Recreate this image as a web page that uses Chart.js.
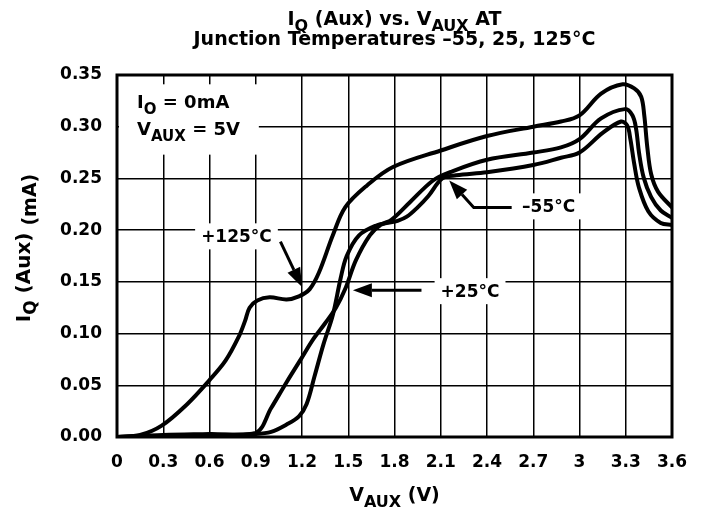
<!DOCTYPE html>
<html>
<head>
<meta charset="utf-8">
<script src="https://cdn.jsdelivr.net/npm/chart.js@4"></script>
<style>
  body { margin: 0; background: #fff; }
  #wrap { width: 704px; height: 512px; }
</style>
</head>
<body>
<div id="wrap"><canvas id="myChart"></canvas></div>
<script>
// tick labels
var xTicks = [0, 0.3, 0.6, 0.9, 1.2, 1.5, 1.8, 2.1, 2.4, 2.7, 3, 3.3, 3.6];
var yTicks = [0, 0.05, 0.10, 0.15, 0.20, 0.25, 0.30, 0.35];

// +125 C
var vHot = [0, 0.15, 0.29, 0.45, 0.6, 0.705, 0.79, 0.83, 0.86, 0.91, 0.99, 1.1, 1.18, 1.25, 1.31, 1.4, 1.48, 1.62, 1.79, 2.1, 2.4, 2.7, 2.88, 3.0, 3.14, 3.28, 3.355, 3.40, 3.42, 3.44, 3.465, 3.51, 3.6];
var iHot = [0, 0.002, 0.011, 0.031, 0.055, 0.074, 0.097, 0.112, 0.125, 0.132, 0.135, 0.133, 0.136, 0.143, 0.159, 0.195, 0.222, 0.243, 0.261, 0.277, 0.291, 0.300, 0.305, 0.311, 0.332, 0.341, 0.337, 0.329, 0.311, 0.280, 0.254, 0.237, 0.222];

// +25 C
var vRoom = [0, 0.3, 0.6, 0.9, 1.0, 1.1, 1.2, 1.27, 1.35, 1.42, 1.48, 1.55, 1.64, 1.71, 1.78, 1.9, 2.05, 2.16, 2.4, 2.7, 2.88, 3.0, 3.14, 3.294, 3.343, 3.367, 3.386, 3.416, 3.465, 3.527, 3.6];
var iRoom = [0, 0.002, 0.003, 0.004, 0.028, 0.053, 0.077, 0.094, 0.110, 0.125, 0.143, 0.171, 0.195, 0.205, 0.210, 0.227, 0.248, 0.256, 0.268, 0.275, 0.280, 0.288, 0.308, 0.317, 0.311, 0.298, 0.275, 0.251, 0.232, 0.219, 0.212];

// -55 C
var vCold = [0, 0.3, 0.6, 0.9, 1.0, 1.1, 1.18, 1.23, 1.28, 1.34, 1.4, 1.45, 1.49, 1.57, 1.69, 1.76, 1.82, 1.88, 1.95, 2.02, 2.11, 2.2, 2.4, 2.7, 2.88, 3.0, 3.15, 3.27, 3.31, 3.33, 3.355, 3.386, 3.447, 3.527, 3.6];
var iCold = [0, 0.001, 0.002, 0.003, 0.005, 0.012, 0.020, 0.032, 0.058, 0.090, 0.118, 0.153, 0.175, 0.195, 0.205, 0.207, 0.209, 0.213, 0.222, 0.233, 0.250, 0.253, 0.256, 0.263, 0.270, 0.275, 0.294, 0.305, 0.301, 0.288, 0.264, 0.241, 0.218, 0.207, 0.205];

var FONT = '"DejaVu Sans", sans-serif';

function toPoints(xs, ys) {
    return xs.map(function(x, i) { return { x: x, y: ys[i] }; });
}

function curve(label, xs, ys) {
    return {
        label: label,
        data: toPoints(xs, ys),
        borderColor: '#000',
        borderWidth: 4,
        pointRadius: 0,
        fill: false,
        tension: 0.35,
        borderCapStyle: 'round',
        borderJoinStyle: 'round'
    };
}

// text with subscripts: parts = [[text, isSub, sizeFactor], ...]
function partFont(p, size) {
    var f = p[2] || (p[1] ? 0.85 : 1);
    return 'bold ' + Math.round(size * f) + 'px ' + FONT;
}
function rich(ctx, parts, x, y, size, align) {
    var w = 0;
    parts.forEach(function(p) {
        ctx.font = partFont(p, size);
        w += ctx.measureText(p[0]).width;
    });
    var cx = align === 'center' ? x - w / 2 : x;
    ctx.textAlign = 'left';
    ctx.textBaseline = 'alphabetic';
    parts.forEach(function(p) {
        ctx.font = partFont(p, size);
        ctx.fillText(p[0], cx, y + (p[1] ? size * 0.32 : 0));
        cx += ctx.measureText(p[0]).width;
    });
    return w;
}

function arrow(ctx, pts) {
    var n = pts.length;
    var tip = pts[n - 1], prev = pts[n - 2];
    var ang = Math.atan2(tip[1] - prev[1], tip[0] - prev[0]);
    var hl = 19, hw = 7;
    var bx = tip[0] - hl * Math.cos(ang), by = tip[1] - hl * Math.sin(ang);
    ctx.lineWidth = 3;
    ctx.beginPath();
    ctx.moveTo(pts[0][0], pts[0][1]);
    for (var i = 1; i < n - 1; i++) ctx.lineTo(pts[i][0], pts[i][1]);
    ctx.lineTo(bx, by);
    ctx.stroke();
    ctx.beginPath();
    ctx.moveTo(tip[0], tip[1]);
    ctx.lineTo(bx + hw * Math.sin(ang), by - hw * Math.cos(ang));
    ctx.lineTo(bx - hw * Math.sin(ang), by + hw * Math.cos(ang));
    ctx.closePath();
    ctx.fill();
}

var extras = {
    id: 'extras',
    afterDraw: function(chart) {
        var ctx = chart.ctx, a = chart.chartArea;
        var sx = chart.scales.x, sy = chart.scales.y;
        var px = function(v) { return sx.getPixelForValue(v); };
        var py = function(v) { return sy.getPixelForValue(v); };
        ctx.save();
        ctx.fillStyle = '#000';
        ctx.strokeStyle = '#000';

        // plot frame
        ctx.lineWidth = 3;
        ctx.strokeRect(a.left, a.top, a.right - a.left, a.bottom - a.top);

        // conditions box
        ctx.fillStyle = '#fff';
        ctx.fillRect(a.left + 2, py(0.341), px(0.92) - a.left - 2, py(0.273) - py(0.341));
        ctx.fillStyle = '#000';
        rich(ctx, [['I', false], ['O', true], [' = 0mA', false]], px(0.13), py(0.318), 18, 'left');
        rich(ctx, [['V', false], ['AUX', true], [' = 5V', false]], px(0.13), py(0.292), 18, 'left');

        // curve labels
        var labels = [
            { t: '+125\u00B0C', x: 0.775, y: 0.194 },
            { t: '+25\u00B0C', x: 2.29, y: 0.141 },
            { t: '\u201355\u00B0C', x: 2.80, y: 0.223 }
        ];
        ctx.font = 'bold 17px ' + FONT;
        ctx.textAlign = 'center';
        ctx.textBaseline = 'middle';
        labels.forEach(function(l) {
            var w = ctx.measureText(l.t).width;
            ctx.fillStyle = '#fff';
            ctx.fillRect(px(l.x) - w / 2 - 6, py(l.y) - 13, w + 12, 26);
            ctx.fillStyle = '#000';
            ctx.fillText(l.t, px(l.x), py(l.y) + 1);
        });

        // arrows
        arrow(ctx, [[px(1.06), py(0.189)], [px(1.20), py(0.145)]]);
        arrow(ctx, [[px(1.975), py(0.142)], [px(1.53), py(0.142)]]);
        arrow(ctx, [[px(2.56), py(0.222)], [px(2.314), py(0.222)], [px(2.155), py(0.248)]]);

        // titles
        var cx = (a.left + a.right) / 2;
        rich(ctx, [['I', false], ['Q', true], [' (Aux) vs. V', false], ['AUX', true], [' AT', false]], cx, 25, 19, 'center');
        rich(ctx, [['Junction Temperatures \u201355, 25, 125\u00B0C', false]], cx, 45, 18.5, 'center');
        rich(ctx, [['V', false], ['AUX', true], [' (V)', false]], cx, 501, 19, 'center');

        ctx.save();
        ctx.translate(30, (a.top + a.bottom) / 2 - 8);
        ctx.rotate(-Math.PI / 2);
        rich(ctx, [['I', false], ['Q', true], [' (Aux) ', false], ['(mA)', true, 0.95]], 0, 0, 20, 'center');
        ctx.restore();

        ctx.restore();
    }
};

window.onload = function() {
    var ctx = document.getElementById('myChart').getContext('2d');
    var myChart = new Chart(ctx, {
        type: 'line',
        data: {
            datasets: [
                curve('+125\u00B0C', vHot, iHot),
                curve('+25\u00B0C', vRoom, iRoom),
                curve('\u201355\u00B0C', vCold, iCold)
            ]
        },
        options: {
            responsive: true,
            maintainAspectRatio: false,
            animation: false,
            layout: { padding: { top: 75, right: 32, bottom: 0, left: 0 } },
            plugins: {
                legend: { display: false },
                title: { display: false },
                tooltip: { enabled: false }
            },
            scales: {
                x: {
                    type: 'linear',
                    min: 0,
                    max: 3.6,
                    afterBuildTicks: function(scale) {
                        scale.ticks = xTicks.map(function(v) { return { value: v }; });
                    },
                    afterFit: function(scale) { scale.height = 75; },
                    border: { display: false },
                    grid: { color: '#000', lineWidth: 1.5, drawTicks: false },
                    ticks: {
                        color: '#000',
                        padding: 15,
                        maxRotation: 0,
                        autoSkip: false,
                        font: { family: FONT, size: 17, weight: 'bold' },
                        callback: function(v) { return String(Math.round(v * 10) / 10); }
                    }
                },
                y: {
                    type: 'linear',
                    min: 0,
                    max: 0.35,
                    afterBuildTicks: function(scale) {
                        scale.ticks = yTicks.map(function(v) { return { value: v }; });
                    },
                    afterFit: function(scale) { scale.width = 117; },
                    border: { display: false },
                    grid: { color: '#000', lineWidth: 1.5, drawTicks: false },
                    ticks: {
                        color: '#000',
                        padding: 15,
                        autoSkip: false,
                        font: { family: FONT, size: 17, weight: 'bold' },
                        callback: function(v) { return v.toFixed(2); }
                    }
                }
            }
        },
        plugins: [extras]
    });
};
</script>
</body>
</html>
